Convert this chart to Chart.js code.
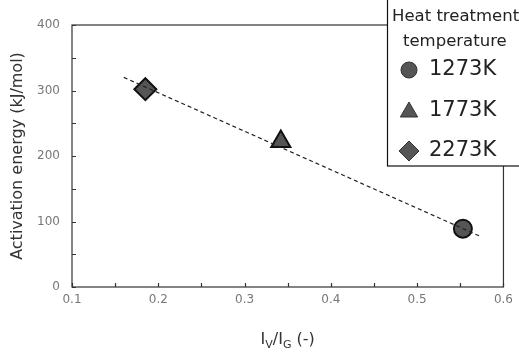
<!DOCTYPE html>
<html>
<head>
<meta charset="utf-8">
<script src="https://cdn.jsdelivr.net/npm/chart.js@4"></script>
<style>
  html, body { margin: 0; padding: 0; background: #fff; }
  #wrap { width: 519px; height: 356px; }
</style>
</head>
<body>
<div id="wrap"><canvas id="myChart" width="519" height="356"></canvas></div>
<script>
const temps = ['1273K', '1773K', '2273K'];
const ratio = [0.553, 0.342, 0.185];
const energy = [89, 222, 302];
const shapes = ['circle', 'triangle', 'rectRot'];
const sizes = [9, 11, 11];
const fitX = [0.16, 0.572];
const fitY = [320, 78];
const xTicks = [0.1, 0.2, 0.3, 0.4, 0.5, 0.6];
const yTicks = [0, 100, 200, 300, 400];

const FONT = '"DejaVu Sans", sans-serif';
const ink = '#222';

const pointSets = temps.map((t, i) => ({
  label: t,
  data: [{ x: ratio[i], y: energy[i] }],
  pointStyle: shapes[i],
  pointRadius: sizes[i],
  pointBackgroundColor: '#555',
  pointBorderColor: '#111',
  pointBorderWidth: 2,
  showLine: false
}));

const fitSet = {
  label: 'fit',
  data: fitX.map((x, i) => ({ x: x, y: fitY[i] })),
  showLine: true,
  borderColor: '#222',
  borderWidth: 1.2,
  borderDash: [4, 3],
  pointRadius: 0
};

// frame, inward ticks, x title with subscripts, boxed legend
const decor = {
  id: 'decor',
  afterDraw(chart) {
    const c = chart.ctx, a = chart.chartArea;
    const xs = chart.scales.x, ys = chart.scales.y;
    c.save();
    c.strokeStyle = '#333';
    c.lineWidth = 1.2;
    c.strokeRect(a.left, a.top, a.right - a.left, a.bottom - a.top);
    c.beginPath();
    for (let v = 0.1; v <= 0.6001; v += 0.05) {
      const px = Math.round(xs.getPixelForValue(v)) + 0.5;
      c.moveTo(px, a.bottom); c.lineTo(px, a.bottom - 4);
    }
    for (let v = 0; v <= 400; v += 50) {
      const py = Math.round(ys.getPixelForValue(v)) + 0.5;
      c.moveTo(a.left, py); c.lineTo(a.left + 4, py);
    }
    c.stroke();

    // x axis title: I_V/I_G (-)
    c.fillStyle = '#333';
    c.textBaseline = 'alphabetic';
    const big = '16px ' + FONT, small = '11px ' + FONT;
    const parts = [['I', big, 0], ['V', small, 4], ['/I', big, 0], ['G', small, 4], [' (-)', big, 0]];
    let w = 0;
    parts.forEach(p => { c.font = p[1]; w += c.measureText(p[0]).width; });
    let x = (a.left + a.right) / 2 - w / 2;
    parts.forEach(p => { c.font = p[1]; c.fillText(p[0], x, 344 + p[2]); x += c.measureText(p[0]).width; });

    // legend box
    const lx = 387, ly = -1;
    c.fillStyle = '#fff';
    c.fillRect(lx, ly, 140, 167);
    c.strokeStyle = '#111';
    c.lineWidth = 1.2;
    c.strokeRect(lx + 0.5, ly, 140, 167);
    c.fillStyle = ink;
    c.font = '16.5px ' + FONT;
    c.textBaseline = 'middle';
    c.fillText('Heat treatment', 392, 17);
    c.fillText('temperature', 403, 42);
    const rows = [70, 111, 151];
    const rad = [8, 10, 10];
    temps.forEach((t, i) => {
      c.fillStyle = '#555';
      c.strokeStyle = '#333';
      c.lineWidth = 1;
      Chart.helpers.drawPoint(c, { pointStyle: shapes[i], radius: rad[i], borderWidth: 1 },
        409, rows[i] + (i === 1 ? 1 : 0));
      c.font = '21px ' + FONT;
      c.fillStyle = ink;
      c.fillText(t, 429, rows[i]);
    });
    c.restore();
  }
};

new Chart(document.getElementById('myChart'), {
  type: 'scatter',
  data: { datasets: [fitSet, ...pointSets] },
  options: {
    responsive: false,
    animation: false,
    layout: { padding: { top: 25, right: 13, left: 8, bottom: 0 } },
    plugins: { legend: { display: false }, tooltip: { enabled: false } },
    scales: {
      x: {
        type: 'linear', min: 0.1, max: 0.6,
        afterBuildTicks: s => { s.ticks = xTicks.map(v => ({ value: v })); },
        afterFit: s => { s.height = 356 - 287; },
        grid: { display: false, drawTicks: false },
        border: { display: false },
        ticks: { color: '#777', font: { family: FONT, size: 12 }, padding: 6, callback: v => v.toFixed(1) }
      },
      y: {
        min: 0, max: 400,
        afterBuildTicks: s => { s.ticks = yTicks.map(v => ({ value: v })); },
        afterFit: s => { s.width = 64; },
        grid: { display: false, drawTicks: false },
        border: { display: false },
        ticks: { color: '#777', font: { family: FONT, size: 12 }, padding: 12 },
        title: { display: true, text: 'Activation energy (kJ/mol)', color: '#333', font: { family: FONT, size: 16 }, padding: { top: 0, bottom: 4 } }
      }
    }
  },
  plugins: [decor]
});
</script>
</body>
</html>
